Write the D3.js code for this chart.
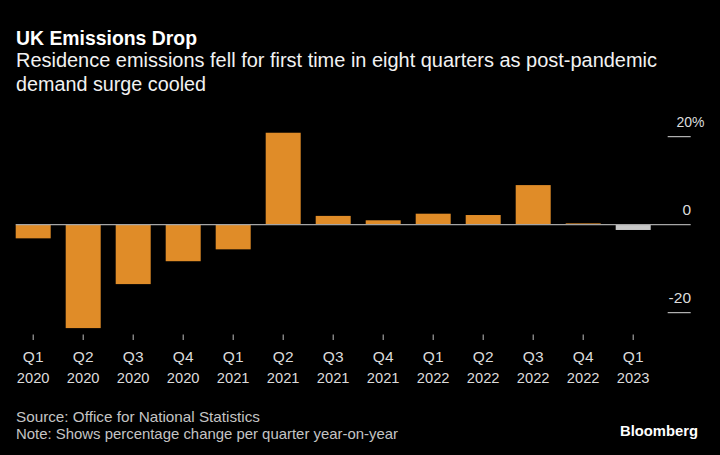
<!DOCTYPE html>
<html>
<head>
<meta charset="utf-8">
<script src="https://cdn.jsdelivr.net/npm/d3@7"></script>
<style>
  html, body { margin: 0; padding: 0; background: #000; }
  svg { display: block; }
  text { font-family: "Liberation Sans", Arial, sans-serif; }
</style>
</head>
<body>
<svg id="chart" width="720" height="455"></svg>
<script>
// ---- Data ----
const quarters = ["Q1","Q2","Q3","Q4","Q1","Q2","Q3","Q4","Q1","Q2","Q3","Q4","Q1"];
const years    = ["2020","2020","2020","2020","2021","2021","2021","2021","2022","2022","2022","2022","2023"];
const changes  = [-3.1, -23.5, -13.5, -8.3, -5.6, 20.9, 2.0, 1.0, 2.5, 2.2, 9.0, 0.3, -1.2];
const provisional = [false,false,false,false,false,false,false,false,false,false,false,false,true];
const yTickValues = [-20, 0, 20];
const yTickLabels = ["-20", "0", "20%"];

const titleText = "UK Emissions Drop";
const subtitleLines = ["Residence emissions fell for first time in eight quarters as post-pandemic", "demand surge cooled"];
const footerLines = ["Source: Office for National Statistics", "Note: Shows percentage change per quarter year-on-year"];

// ---- Setup ----
const svg = d3.select("#chart");
svg.append("rect").attr("width", 720).attr("height", 455).attr("fill", "#000");

const keys = quarters.map((q, i) => q + " " + years[i]);
const x = d3.scaleBand().domain(keys).range([8.2, 658.2]).paddingInner(0.3).paddingOuter(0.15);
const y = d3.scaleLinear().domain([-20, 20]).range([312.7, 136.7]);

function fitText(sel, w) {
  sel.attr("textLength", w).attr("lengthAdjust", "spacingAndGlyphs");
}

// Title
svg.append("text").attr("x", 16).attr("y", 44.5).attr("fill", "#fff")
  .attr("font-size", 19.5).attr("font-weight", 700).text(titleText).call(fitText, 181);

// Subtitle
const subW = [641, 190];
subtitleLines.forEach((s, i) => {
  svg.append("text").attr("x", 16).attr("y", 66.5 + i * 24).attr("fill", "#f2f2f2")
    .attr("font-size", 19.5).text(s).call(fitText, subW[i]);
});

// Bars
svg.append("g").selectAll("rect").data(changes).join("rect")
  .attr("x", (d, i) => x(keys[i]))
  .attr("width", x.bandwidth())
  .attr("y", d => Math.min(y(d), y(0)))
  .attr("height", d => Math.abs(y(d) - y(0)))
  .attr("fill", (d, i) => provisional[i] ? "#c8c8c8" : "#e08c28");

// Zero line
svg.append("line")
  .attr("x1", x(keys[0])).attr("x2", 690.7)
  .attr("y1", y(0)).attr("y2", y(0))
  .attr("stroke", "#a6a6a6").attr("stroke-width", 1.3);

// Right axis ticks & labels
const yAxis = svg.append("g");
yTickValues.forEach((v, i) => {
  if (v !== 0) {
    yAxis.append("line").attr("x1", 667.7).attr("x2", 690.7)
      .attr("y1", y(v)).attr("y2", y(v)).attr("stroke", "#d9d9d9").attr("stroke-width", 1);
  }
  const lbl = yTickLabels[i];
  const t = yAxis.append("text").attr("y", y(v) - 9.3).attr("fill", "#dcdcdc")
    .attr("font-size", 15.5).text(lbl);
  if (lbl.endsWith("%")) {
    t.attr("x", 676.5).attr("text-anchor", "start").call(fitText, 28);
  } else {
    t.attr("x", 691).attr("text-anchor", "end");
  }
});

// X axis ticks & labels
const xAxis = svg.append("g");
keys.forEach((k, i) => {
  const cx = x(k) + x.bandwidth() / 2;
  xAxis.append("line").attr("x1", cx).attr("x2", cx).attr("y1", 334.5).attr("y2", 340)
    .attr("stroke", "#bdbdbd").attr("stroke-width", 1);
  xAxis.append("text").attr("x", cx).attr("y", 362).attr("text-anchor", "middle")
    .attr("fill", "#dcdcdc").attr("font-size", 15.5).text(quarters[i]);
  xAxis.append("text").attr("x", cx).attr("y", 383).attr("text-anchor", "middle")
    .attr("fill", "#dcdcdc").attr("font-size", 15.5).text(years[i]).call(fitText, 32.7);
});

// Footer
const footW = [244, 382];
footerLines.forEach((s, i) => {
  svg.append("text").attr("x", 16).attr("y", 422 + i * 17).attr("fill", "#c4c4c4")
    .attr("font-size", 14.5).text(s).call(fitText, footW[i]);
});
svg.append("text").attr("x", 620).attr("y", 435.5).attr("fill", "#fff")
  .attr("font-size", 15.5).attr("font-weight", 700).text("Bloomberg").call(fitText, 78);
</script>
</body>
</html>
